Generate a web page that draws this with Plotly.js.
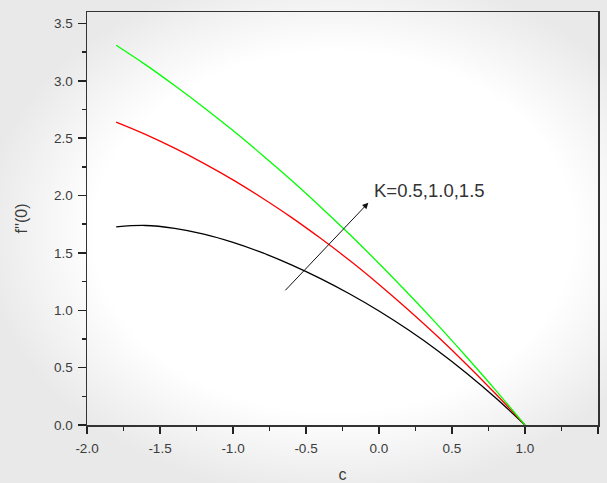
<!DOCTYPE html>
<html>
<head>
<meta charset="utf-8">
<script src="https://cdn.plot.ly/plotly-3.0.1.min.js"></script>
<style>
html,body{margin:0;padding:0;width:607px;height:483px;overflow:hidden;}
body{background:radial-gradient(ellipse 58% 55% at 55% 48%, #ffffff 68%, #e9e9e9 100%);}
#chart{width:607px;height:483px;}
</style>
</head>
<body>
<div id="chart"></div>
<script>
// stretching ratio c
var c = [-1.8, -1.6, -1.4, -1.2, -1.0, -0.8, -0.6, -0.4, -0.2, 0.0, 0.2, 0.4, 0.6, 0.8, 1.0];
// f''(0) for K = 0.5, 1.0, 1.5
var fK05 = [1.727, 1.739, 1.714, 1.664, 1.592, 1.502, 1.396, 1.276, 1.142, 0.994, 0.830, 0.650, 0.452, 0.236, 0.0];
var fK10 = [2.640, 2.533, 2.413, 2.281, 2.137, 1.979, 1.810, 1.627, 1.433, 1.225, 1.005, 0.773, 0.528, 0.270, 0.0];
var fK15 = [3.310, 3.141, 2.959, 2.768, 2.566, 2.354, 2.133, 1.901, 1.660, 1.408, 1.146, 0.875, 0.593, 0.302, 0.0];
var seriesNames = ['K=0.5', 'K=1.0', 'K=1.5'];
var seriesColors = ['#000000', '#ff0000', '#00ff00'];
var annotationText = 'K=0.5,1.0,1.5';
var xTickVals = [-2.0, -1.5, -1.0, -0.5, 0.0, 0.5, 1.0, 1.5];
var xTickText = ['-2.0', '-1.5', '-1.0', '-0.5', '0.0', '0.5', '1.0', '1.5'];
var yTickVals = [0.0, 0.5, 1.0, 1.5, 2.0, 2.5, 3.0, 3.5];
var yTickText = ['0.0', '0.5', '1.0', '1.5', '2.0', '2.5', '3.0', '3.5'];

var ys = [fK05, fK10, fK15];
var traces = ys.map(function(y, i){
  return {x: c, y: y, type: 'scatter', mode: 'lines', name: seriesNames[i],
          line: {color: seriesColors[i], width: 1.3, shape: 'spline', smoothing: 1}};
});

var FAM = 'Liberation Sans, Arial, sans-serif';
var tickFont = {family: FAM, size: 13.5, color: '#3c3c3c'};
var layout = {
  width: 607, height: 483,
  margin: {l: 87, r: 9, t: 12, b: 58},
  paper_bgcolor: 'rgba(0,0,0,0)',
  plot_bgcolor: 'rgba(0,0,0,0)',
  showlegend: false,
  xaxis: {
    range: [-2.0, 1.5], tickmode: 'array', tickvals: xTickVals, ticktext: xTickText,
    ticks: 'outside', ticklen: 7, tickwidth: 1.5, tickcolor: '#222', ticklabelstandoff: 3,
    minor: {dtick: 0.25, tick0: -2, ticks: 'outside', ticklen: 4, tickwidth: 1.5, tickcolor: '#222', showgrid: false},
    showline: true, linecolor: '#333', linewidth: 1.5, mirror: true,
    showgrid: false, zeroline: false, tickfont: tickFont,
    title: {text: 'c', font: {family: FAM, size: 16, color: '#3c3c3c'}, standoff: 16}
  },
  yaxis: {
    range: [0, 3.6], tickmode: 'array', tickvals: yTickVals, ticktext: yTickText,
    ticks: 'outside', ticklen: 8, tickwidth: 1.5, tickcolor: '#222', ticklabelstandoff: 2,
    minor: {dtick: 0.25, tick0: 0, ticks: 'outside', ticklen: 4, tickwidth: 1.5, tickcolor: '#222', showgrid: false},
    showline: true, linecolor: '#333', linewidth: 1.5, mirror: true,
    showgrid: false, zeroline: false, tickfont: tickFont,
    title: {text: "f''(0)", font: {family: FAM, size: 16, color: '#3c3c3c'}, standoff: 22}
  },
  annotations: [
    {x: -0.073, y: 1.937, ax: -0.651, ay: 1.161, xref: 'x', yref: 'y', axref: 'x', ayref: 'y',
     showarrow: true, arrowhead: 2, arrowsize: 1.2, arrowwidth: 1, arrowcolor: '#111', text: ''},
    {x: -0.048, y: 2.047, xref: 'x', yref: 'y', xanchor: 'left', yanchor: 'middle', showarrow: false,
     text: annotationText, font: {family: FAM, size: 18.5, color: '#333'}}
  ]
};
Plotly.newPlot('chart', traces, layout, {displayModeBar: false, staticPlot: true});
</script>
</body>
</html>
